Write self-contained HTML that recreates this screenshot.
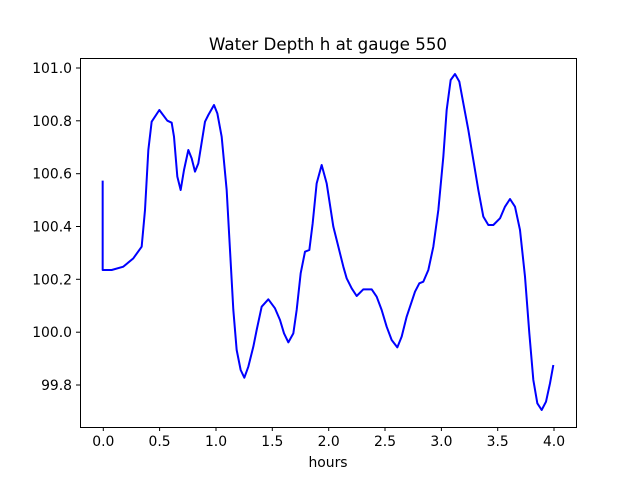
<!DOCTYPE html>
<html><head><meta charset="utf-8"><style>
body{margin:0;background:#fff}
svg{display:block}
text{font-family:"DejaVu Sans","Liberation Sans",sans-serif;fill:#000}
</style></head><body>
<svg width="640" height="480" viewBox="0 0 640 480" xmlns="http://www.w3.org/2000/svg">
<rect width="640" height="480" fill="#fff"/>
<g transform="translate(80,50) scale(0.3333333)">
<polyline fill="none" stroke="#0000ff" stroke-width="6" stroke-linejoin="round" stroke-linecap="butt" points="68,392 68,660 95,660 130,650 160,625 185,590 195,480 205,300 215,215 238,180 262,212 275,218 282,260 292,380 302,420 312,360 325,300 335,325 345,365 355,340 375,215 385,195 402,165 412,190 425,260 440,420 450,600 460,780 470,900 482,960 493,983 505,950 520,890 530,840 545,770 565,748 585,775 600,810 612,850 625,877 640,850 650,780 662,670 675,605 688,600 698,520 710,400 725,345 740,400 760,530 775,590 790,650 800,685 815,715 830,738 850,718 875,718 890,740 905,780 920,830 935,870 952,892 965,860 980,800 990,770 1005,725 1018,700 1030,695 1045,660 1060,590 1075,480 1090,320 1100,180 1112,90 1125,72 1138,95 1150,160 1165,240 1180,330 1195,420 1210,500 1225,525 1240,525 1260,505 1275,470 1290,447 1305,470 1320,540 1335,680 1348,850 1360,990 1372,1060 1385,1080 1398,1055 1410,1000 1420,945"/>
</g>
<rect x="80.5" y="58.5" width="496" height="369" fill="none" stroke="#000" stroke-width="1"/>
<g stroke="#000" stroke-width="1">
<line x1="103.3" y1="427" x2="103.3" y2="431"/>
<line x1="159.6" y1="427" x2="159.6" y2="431"/>
<line x1="216" y1="427" x2="216" y2="431"/>
<line x1="272.3" y1="427" x2="272.3" y2="431"/>
<line x1="328.7" y1="427" x2="328.7" y2="431"/>
<line x1="385" y1="427" x2="385" y2="431"/>
<line x1="441.4" y1="427" x2="441.4" y2="431"/>
<line x1="497.7" y1="427" x2="497.7" y2="431"/>
<line x1="554" y1="427" x2="554" y2="431"/>
<line x1="76" y1="385" x2="80" y2="385"/>
<line x1="76" y1="332.2" x2="80" y2="332.2"/>
<line x1="76" y1="279.3" x2="80" y2="279.3"/>
<line x1="76" y1="226.5" x2="80" y2="226.5"/>
<line x1="76" y1="173.7" x2="80" y2="173.7"/>
<line x1="76" y1="120.8" x2="80" y2="120.8"/>
<line x1="76" y1="68" x2="80" y2="68"/>
</g>
<g font-size="13.9" text-anchor="middle">
<text x="103.3" y="446">0.0</text>
<text x="159.6" y="446">0.5</text>
<text x="216" y="446">1.0</text>
<text x="272.3" y="446">1.5</text>
<text x="328.7" y="446">2.0</text>
<text x="385" y="446">2.5</text>
<text x="441.4" y="446">3.0</text>
<text x="497.7" y="446">3.5</text>
<text x="554" y="446">4.0</text>
</g>
<g font-size="13.9" text-anchor="end">
<text x="72" y="390">99.8</text>
<text x="72" y="337.2">100.0</text>
<text x="72" y="284.3">100.2</text>
<text x="72" y="231.5">100.4</text>
<text x="72" y="178.7">100.6</text>
<text x="72" y="125.8">100.8</text>
<text x="72" y="73">101.0</text>
</g>
<text x="328" y="467" font-size="13.9" text-anchor="middle">hours</text>
<text x="328" y="50" font-size="16.7" text-anchor="middle">Water Depth h at gauge 550</text>
</svg>
</body></html>
